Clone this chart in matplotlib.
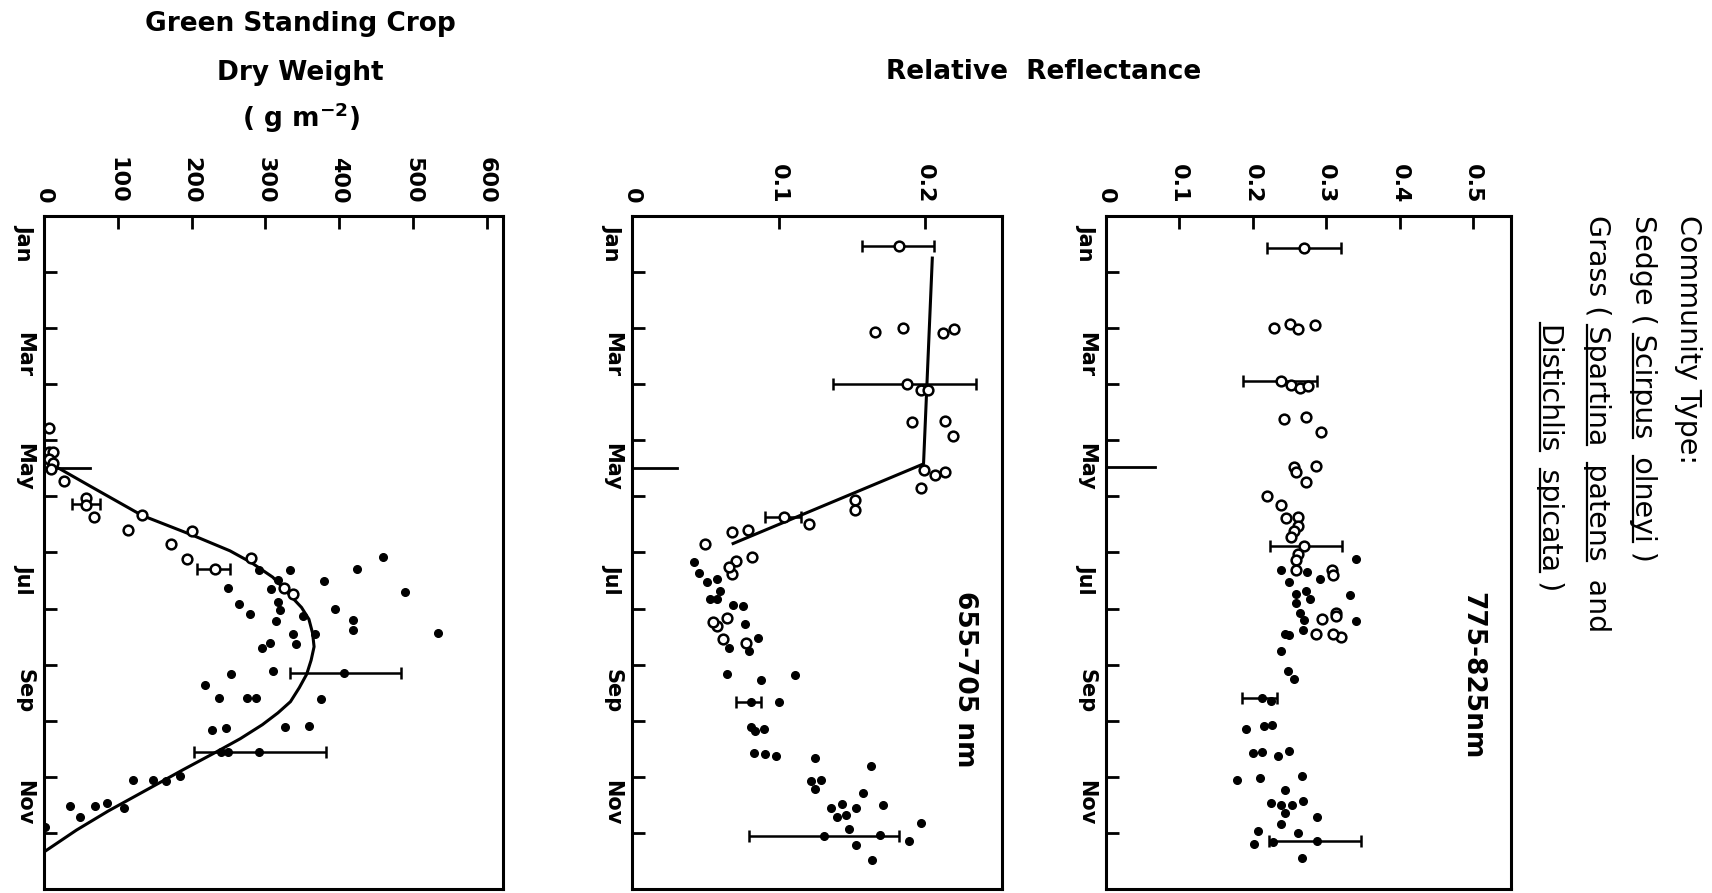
import matplotlib
matplotlib.use("Agg")
import matplotlib.pyplot as plt
from matplotlib.lines import Line2D

plt.rcParams['font.family'] = ['DejaVu Sans']
plt.rcParams['mathtext.default'] = 'regular'

# month axis: 0 = 1 Jan ... 12 = end of Dec (drawn downwards)
month_names = ["Jan", "Mar", "May", "Jul", "Sep", "Nov"]
month_label_pos = [0.47, 2.47, 4.47, 6.47, 8.47, 10.47]
month_ticks = list(range(1, 12))

# ---------------- Green standing crop (g m-2) ----------------
bio_open_m = [3.78, 4.20, 4.20, 4.33, 4.40, 4.51, 4.72, 5.02, 5.16, 5.37, 5.59, 5.34,
              5.85, 5.61, 6.11, 6.29, 6.10, 6.63, 6.74]
bio_open_v = [7, 7, 12, 7, 12, 10, 27, 57, 57, 68, 114, 133,
              172, 200, 194, 232, 281, 325, 337]
bio_fill_m = [6.31, 6.32, 6.08, 6.30, 6.51, 6.70, 6.49, 6.65, 6.63, 6.91, 6.88, 7.02,
              7.09, 7.23, 7.14, 7.00, 7.21, 7.38, 7.44, 7.46, 7.64, 7.45, 7.61, 7.71,
              8.17, 8.11, 8.15, 8.36, 8.60, 8.59, 8.59, 8.62, 9.16, 9.13, 9.12, 9.09,
              9.55, 9.55, 9.55, 10.05, 10.05, 10.07, 9.99, 10.52, 10.71, 10.52, 10.47,
              10.55, 10.89]
bio_fill_v = [291, 334, 460, 424, 380, 489, 317, 308, 250, 264, 317, 320,
              279, 315, 351, 395, 419, 419, 534, 337, 342, 367, 306, 296,
              254, 310, 406, 218, 237, 275, 287, 375, 228, 247, 326, 359,
              240, 250, 291, 120, 148, 165, 184, 35, 49, 69, 86,
              108, 2]
bio_err_m = [5.14, 6.29, 8.15, 9.55]
bio_err_v = [57, 232, 406, 291]
bio_err_lo = [19, 24, 72, 88]
bio_err_hi = [19, 20, 78, 91]
bio_fit_m = [4.49, 4.82, 5.34, 5.69, 5.97, 6.18, 6.44, 6.70, 6.98, 7.19, 7.44, 7.68,
             7.92, 8.17, 8.41, 8.66, 8.86, 9.07, 9.32, 9.56, 9.87, 10.19, 10.61,
             10.95, 11.34]
bio_fit_v = [19, 63, 133, 201, 252, 281, 310, 329, 349, 359, 364, 366,
             362, 356, 346, 334, 317, 296, 266, 233, 189, 145, 87,
             44, 0]
bio_mark = (4.49, 62)

# ---------------- Reflectance 655-705 nm ----------------
red_open_m = [0.54, 2.07, 1.99, 2.08, 2.01, 2.99, 3.10, 3.10, 3.68, 3.66, 3.92, 4.53,
              4.62, 4.57, 4.85, 5.06, 5.24, 5.37, 5.50, 5.64, 5.60, 5.84, 6.08, 6.15,
              6.38, 6.26, 7.17, 7.31, 7.24, 7.55, 7.62]
red_open_v = [0.182, 0.166, 0.185, 0.212, 0.220, 0.188, 0.197, 0.202, 0.191, 0.214,
              0.219, 0.199, 0.207, 0.214, 0.197, 0.152, 0.152, 0.104, 0.121, 0.068,
              0.079, 0.050, 0.082, 0.071, 0.068, 0.066, 0.065, 0.058, 0.055, 0.062,
              0.078]
red_fill_m = [6.17, 6.37, 6.52, 6.48, 6.69, 6.83, 6.83, 6.94, 6.95, 7.28, 7.70, 7.76,
              7.53, 8.17, 8.28, 8.19, 8.66, 8.66, 9.12, 9.19, 9.14, 9.57, 9.59, 9.62,
              9.66, 9.81, 10.07, 10.06, 10.21, 10.28, 10.48, 10.55, 10.71, 10.68,
              10.55, 10.50, 10.83, 11.06, 10.93, 11.03, 11.15, 11.21, 11.48]
red_fill_v = [0.042, 0.046, 0.051, 0.058, 0.060, 0.053, 0.058, 0.069, 0.076, 0.077,
              0.066, 0.080, 0.086, 0.065, 0.088, 0.111, 0.081, 0.100, 0.081, 0.084,
              0.090, 0.083, 0.091, 0.098, 0.125, 0.163, 0.122, 0.129, 0.125, 0.158,
              0.143, 0.136, 0.140, 0.146, 0.153, 0.171, 0.197, 0.131, 0.148, 0.169,
              0.189, 0.153, 0.164]
red_err_m = [0.54, 2.99, 5.37, 8.66, 11.06]
red_err_v = [0.182, 0.188, 0.104, 0.081, 0.131]
red_err_lo = [0.025, 0.051, 0.013, 0.010, 0.051]
red_err_hi = [0.024, 0.047, 0.011, 0.007, 0.051]
red_fit_m = [0.75, 4.42, 5.84]
red_fit_v = [0.205, 0.199, 0.069]
red_mark = (4.50, 0.031)

# ---------------- Reflectance 775-825 nm ----------------
nir_open_m = [0.57, 2.00, 1.93, 2.01, 1.95, 2.95, 3.02, 3.06, 3.03, 3.62, 3.59, 3.86,
              4.48, 4.46, 4.57, 4.74, 4.99, 5.16, 5.38, 5.37, 5.52, 5.61, 5.72, 5.88,
              6.03, 6.14, 6.31, 6.31, 6.41, 7.07, 7.14, 7.19, 7.46, 7.50, 7.45]
nir_open_v = [0.270, 0.229, 0.251, 0.261, 0.285, 0.239, 0.252, 0.264, 0.275, 0.242,
              0.272, 0.293, 0.256, 0.286, 0.259, 0.272, 0.220, 0.239, 0.245, 0.261,
              0.261, 0.256, 0.252, 0.270, 0.262, 0.259, 0.259, 0.308, 0.309, 0.314,
              0.314, 0.294, 0.286, 0.320, 0.309]
nir_fill_m = [6.12, 6.32, 6.34, 6.47, 6.52, 6.76, 6.74, 6.69, 6.83, 6.90, 7.07, 7.21,
              7.38, 7.23, 7.45, 7.48, 7.76, 8.12, 8.26, 8.60, 8.64, 9.15, 9.10, 9.07,
              9.57, 9.55, 9.63, 9.54, 10.05, 10.02, 9.98, 10.23, 10.46, 10.50, 10.50,
              10.43, 10.64, 10.71, 10.84, 10.97, 11.00, 11.17, 11.15, 11.19, 11.45]
nir_fill_v = [0.341, 0.238, 0.274, 0.291, 0.249, 0.333, 0.259, 0.272, 0.278, 0.259,
              0.265, 0.270, 0.268, 0.340, 0.244, 0.249, 0.239, 0.248, 0.256, 0.213,
              0.225, 0.191, 0.215, 0.226, 0.200, 0.213, 0.235, 0.249, 0.179, 0.210,
              0.267, 0.244, 0.225, 0.239, 0.253, 0.268, 0.244, 0.287, 0.239, 0.207,
              0.261, 0.228, 0.287, 0.202, 0.267]
nir_err_m = [0.57, 2.95, 5.88, 8.60, 11.15]
nir_err_v = [0.270, 0.239, 0.270, 0.213, 0.287]
nir_err_lo = [0.051, 0.052, 0.047, 0.027, 0.065]
nir_err_hi = [0.050, 0.049, 0.051, 0.020, 0.061]
nir_mark = (4.48, 0.067)

fig = plt.figure(figsize=(17.12, 8.93), dpi=100)


def make_panel(rect, xmax, xticks, xlabels):
    ax = fig.add_axes(rect)
    ax.set_xlim(0, xmax)
    ax.set_ylim(12, 0)
    ax.xaxis.set_ticks_position('top')
    ax.set_xticks(xticks)
    ax.set_xticklabels(xlabels, rotation=270, fontsize=16, fontweight='bold')
    ax.tick_params(axis='x', direction='in', length=9, width=2, pad=9)
    ax.set_yticks(month_ticks)
    ax.set_yticklabels([])
    ax.set_yticks(month_label_pos, minor=True)
    ax.set_yticklabels(month_names, minor=True, rotation=270, fontsize=15,
                       fontweight='bold', va='center')
    ax.tick_params(axis='y', which='major', direction='in', length=9, width=2)
    ax.tick_params(axis='y', which='minor', length=0, pad=7)
    for s in ax.spines.values():
        s.set_linewidth(2.2)
    return ax


def draw_points(ax, om, ov, fm, fv, em, ev, elo, ehi, mark):
    ax.errorbar(ev, em, xerr=[elo, ehi], fmt='none', ecolor='k', elinewidth=1.8,
                capsize=4, capthick=1.8, zorder=2)
    ax.plot(fv, fm, 'o', color='k', ms=5.5, zorder=3)
    ax.plot(ov, om, 'o', mfc='white', mec='k', ms=7, mew=1.8, zorder=3)
    ax.plot([0, mark[1]], [mark[0], mark[0]], 'k-', lw=2)


ax1 = make_panel([0.0257, 0.0045, 0.2681, 0.7536], 622,
                 [0, 100, 200, 300, 400, 500, 600],
                 ["0", "100", "200", "300", "400", "500", "600"])
draw_points(ax1, bio_open_m, bio_open_v, bio_fill_m, bio_fill_v,
            bio_err_m, bio_err_v, bio_err_lo, bio_err_hi, bio_mark)
ax1.plot(bio_fit_v, bio_fit_m, 'k-', lw=2.2)

ax2 = make_panel([0.3692, 0.0045, 0.2161, 0.7536], 0.2526,
                 [0, 0.1, 0.2], ["0", "0.1", "0.2"])
draw_points(ax2, red_open_m, red_open_v, red_fill_m, red_fill_v,
            red_err_m, red_err_v, red_err_lo, red_err_hi, red_mark)
ax2.plot(red_fit_v, red_fit_m, 'k-', lw=2.2)
ax2.text(0.227, 8.26, "655-705 nm", rotation=270, ha='center', va='center',
         fontsize=19, fontweight='bold')

ax3 = make_panel([0.6460, 0.0045, 0.2366, 0.7536], 0.5518,
                 [0, 0.1, 0.2, 0.3, 0.4, 0.5],
                 ["0", "0.1", "0.2", "0.3", "0.4", "0.5"])
draw_points(ax3, nir_open_m, nir_open_v, nir_fill_m, nir_fill_v,
            nir_err_m, nir_err_v, nir_err_lo, nir_err_hi, nir_mark)
ax3.text(0.499, 8.2, "775-825nm", rotation=270, ha='center', va='center',
         fontsize=19, fontweight='bold')

# titles
fig.text(0.1755, 0.973, "Green Standing Crop", ha='center', va='center',
         fontsize=19, fontweight='bold')
fig.text(0.1755, 0.918, "Dry Weight", ha='center', va='center',
         fontsize=19, fontweight='bold')
fig.text(0.1755, 0.868, "( g m$^{-2}$)", ha='center', va='center',
         fontsize=19, fontweight='bold')
fig.text(0.6095, 0.919, "Relative  Reflectance", ha='center', va='center',
         fontsize=19, fontweight='bold')

# community type legend, rotated, with underlined species names
fig.canvas.draw()
renderer = fig.canvas.get_renderer()
leg_fs = 20.5
leg_lines = [
    (1688, 215, "Community Type:", []),
    (1643, 215, "Sedge ( Scirpus  olneyi )", ["Scirpus", "olneyi"]),
    (1597, 215, "Grass ( Spartina  patens  and", ["Spartina", "patens"]),
]
t_probe = fig.text(0, 0, "x", fontsize=leg_fs)
prop = t_probe.get_fontproperties()
t_probe.remove()


def text_w(s):
    return renderer.get_text_width_height_descent(s, prop, ismath=False)[0]


descent = renderer.get_text_width_height_descent("lp", prop, ismath=False)[2]
H = fig.bbox.height


def put_line(xpx, ypx, s, words):
    t = fig.text(xpx / 1712, 1 - ypx / 893, s, rotation=270, ha='center', va='top',
                 fontsize=leg_fs)
    bb = t.get_window_extent(renderer)
    base_x = bb.x0 + descent - 2
    top = bb.y1
    starts = {}
    for w in words:
        i = s.index(w)
        end = text_w(s[:i + len(w)])
        start = end - text_w(w)
        starts[w] = ypx + start
        y0 = (top - start) / H
        y1 = (top - end) / H
        fig.add_artist(Line2D([base_x / 1712, base_x / 1712], [y0, y1],
                              transform=fig.transFigure, color='k', lw=1.6))
    return starts


put_line(*leg_lines[0])
put_line(*leg_lines[1])
st = put_line(*leg_lines[2])
put_line(1550, st["Spartina"] - 2, "Distichlis  spicata )", ["Distichlis", "spicata"])

fig.savefig("out.png", dpi=100)
